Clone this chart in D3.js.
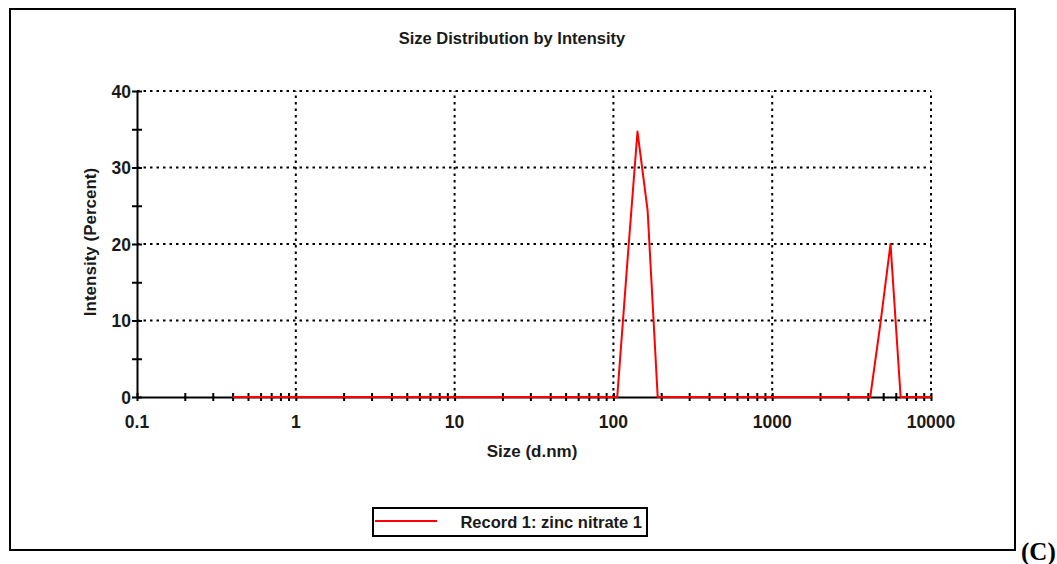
<!DOCTYPE html>
<html>
<head>
<meta charset="utf-8">
<script src="https://cdn.jsdelivr.net/npm/d3@7"></script>
<style>
  html, body { margin: 0; padding: 0; background: #fff; }
  svg { display: block; }
</style>
</head>
<body>
<svg id="chart" width="1057" height="564"></svg>
<script>
// ---- data ----
const sizes = [0.4, 0.4632, 0.5365, 0.6213, 0.7195, 0.8332, 0.9649, 1.117, 1.294, 1.499,
  1.736, 2.010, 2.328, 2.696, 3.122, 3.615, 4.187, 4.849, 5.615, 6.503,
  7.531, 8.721, 10.10, 11.70, 13.54, 15.69, 18.17, 21.04, 24.36, 28.21,
  32.67, 37.84, 43.82, 50.75, 58.77, 68.06, 78.82, 91.28, 105.7, 122.4,
  141.8, 164.2, 190.1, 220.2, 255.0, 295.3, 342.0, 396.1, 458.7, 531.2,
  615.1, 712.4, 825.0, 955.4, 1106, 1281, 1484, 1718, 1990, 2305,
  2669, 3091, 3580, 4145, 4801, 5560, 6439, 7456, 8635, 10000];
const intensity = [0, 0, 0, 0, 0, 0, 0, 0, 0, 0,
  0, 0, 0, 0, 0, 0, 0, 0, 0, 0,
  0, 0, 0, 0, 0, 0, 0, 0, 0, 0,
  0, 0, 0, 0, 0, 0, 0, 0, 0, 17.6,
  34.7, 24.4, 0, 0, 0, 0, 0, 0, 0, 0,
  0, 0, 0, 0, 0, 0, 0, 0, 0, 0,
  0, 0, 0, 0, 9.6, 20.0, 0, 0, 0, 0];
const xMajorTicks = [0.1, 1, 10, 100, 1000, 10000];
const xTickLabels = ["0.1", "1", "10", "100", "1000", "10000"];
const yMajorTicks = [0, 10, 20, 30, 40];
const yMinorTicks = [5, 15, 25, 35];
const seriesName = "Record 1: zinc nitrate 1";

// ---- layout ----
const svg = d3.select("#chart");
const x = d3.scaleLog().domain([0.1, 10000]).range([137, 931]);
const y = d3.scaleLinear().domain([0, 40]).range([397, 91]);
const font = "'Liberation Sans', Arial, sans-serif";
const ink = "#1a1a1a";

// outer frame
svg.append("rect").attr("x", 10).attr("y", 9).attr("width", 1005).attr("height", 541)
  .attr("fill", "none").attr("stroke", "#000").attr("stroke-width", 2);

// title
svg.append("text").attr("x", 512).attr("y", 44).attr("text-anchor", "middle")
  .attr("font-family", font).attr("font-size", 16.5).attr("font-weight", "bold")
  .attr("fill", ink).text("Size Distribution by Intensity");

// grid
const grid = svg.append("g").attr("stroke", "#000").attr("stroke-width", 2)
  .attr("stroke-dasharray", "2.5,4");
grid.selectAll("line.h").data(yMajorTicks.filter(d => d > 0)).join("line")
  .attr("x1", x(0.1)).attr("x2", x(10000))
  .attr("y1", d => y(d)).attr("y2", d => y(d));
grid.selectAll("line.v").data(xMajorTicks.filter(d => d > 0.1)).join("line")
  .attr("y1", y(0)).attr("y2", y(40))
  .attr("x1", d => x(d)).attr("x2", d => x(d));

// all x ticks (major + minor per decade)
const xAllTicks = x.ticks();
const xAxis = d3.axisBottom(x).tickValues(xAllTicks).tickSize(0).tickFormat("");
const gx = svg.append("g").attr("transform", `translate(0,${y(0)})`).call(xAxis);
gx.select(".domain").attr("stroke-width", 2).attr("stroke", "#000");
gx.selectAll(".tick line").remove();
gx.selectAll(".tick").append("line").attr("y1", -4).attr("y2", 4)
  .attr("stroke", "#000").attr("stroke-width", 2);

// x labels
svg.append("g").selectAll("text").data(xMajorTicks).join("text")
  .attr("x", d => x(d)).attr("y", 428).attr("text-anchor", "middle")
  .attr("font-family", font).attr("font-size", 17.5).attr("font-weight", "bold")
  .attr("fill", ink).text((d, i) => xTickLabels[i]);

// y axis
const yAxis = d3.axisLeft(y).tickValues(yMajorTicks.concat(yMinorTicks)).tickSize(0).tickFormat("");
const gy = svg.append("g").attr("transform", `translate(${x(0.1)},0)`).call(yAxis);
gy.select(".domain").attr("stroke-width", 2).attr("stroke", "#000");
gy.selectAll(".tick line").remove();
gy.selectAll(".tick").append("line").attr("x1", -5).attr("x2", 5)
  .attr("stroke", "#000").attr("stroke-width", 2);
svg.append("g").selectAll("text").data(yMajorTicks).join("text")
  .attr("x", 131).attr("y", d => y(d) + 6.5).attr("text-anchor", "end")
  .attr("font-family", font).attr("font-size", 17.5).attr("font-weight", "bold")
  .attr("fill", ink).text(d => d);

// axis titles
svg.append("text").attr("x", 532).attr("y", 457).attr("text-anchor", "middle")
  .attr("font-family", font).attr("font-size", 17).attr("font-weight", "bold")
  .attr("fill", ink).text("Size (d.nm)");
svg.append("text").attr("transform", `translate(96,${242}) rotate(-90)`)
  .attr("text-anchor", "middle")
  .attr("font-family", font).attr("font-size", 17).attr("font-weight", "bold")
  .attr("fill", ink).text("Intensity (Percent)");

// series line
const pts = sizes.map((s, i) => [s, intensity[i]]);
const line = d3.line().x(d => x(d[0])).y(d => y(d[1]));
svg.append("path").datum(pts).attr("d", line).attr("fill", "none")
  .attr("stroke", "#ff0000").attr("stroke-width", 2).attr("stroke-linejoin", "round");

// legend
const lg = svg.append("g");
lg.append("rect").attr("x", 373).attr("y", 508).attr("width", 274).attr("height", 28)
  .attr("fill", "#fff").attr("stroke", "#000").attr("stroke-width", 2);
lg.append("line").attr("x1", 375).attr("x2", 437).attr("y1", 521).attr("y2", 521)
  .attr("stroke", "#ff0000").attr("stroke-width", 2);
lg.append("text").attr("x", 642).attr("y", 528).attr("text-anchor", "end")
  .attr("font-family", font).attr("font-size", 16.5).attr("font-weight", "bold")
  .attr("fill", ink).text(seriesName);

// panel label
svg.append("text").attr("x", 1021).attr("y", 560)
  .attr("font-family", "'Liberation Serif', 'Times New Roman', serif")
  .attr("font-size", 25).attr("font-weight", "bold").attr("fill", "#000").text("(C)");
</script>
</body>
</html>
